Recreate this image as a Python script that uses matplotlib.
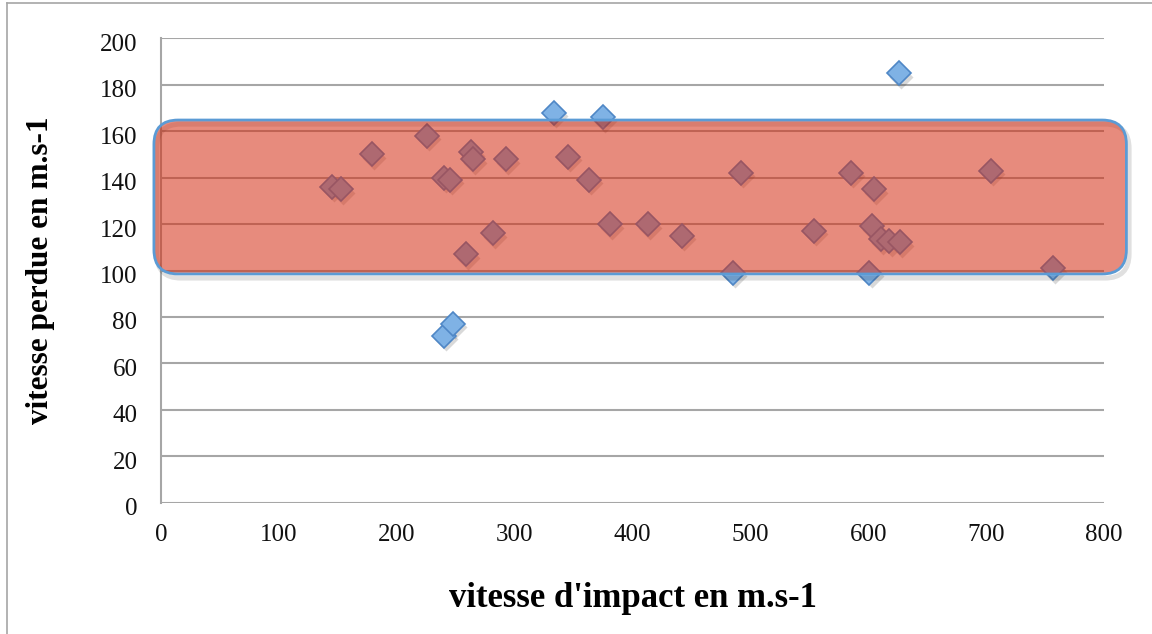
import matplotlib
matplotlib.use("Agg")
import matplotlib.pyplot as plt
from matplotlib.patches import FancyBboxPatch
from matplotlib.lines import Line2D
import matplotlib.transforms as mtransforms

# ---- data ----
impact_speed = [145, 153, 179, 226, 240, 245, 259, 263, 265, 282, 293, 333, 345, 363,
                375, 381, 413, 442, 485, 492, 554, 585, 601, 603, 605, 611, 618, 627,
                626, 704, 757, 240, 248]
lost_speed = [136, 135, 150, 158, 140, 139, 107, 151, 148, 116, 148, 168, 149, 139,
              166, 120, 120, 115, 99, 142, 117, 142, 99, 119, 135, 113.5, 112.6, 112.2,
              185, 143, 101, 72, 77]
x_ticks = [0, 100, 200, 300, 400, 500, 600, 700, 800]
y_ticks = [0, 20, 40, 60, 80, 100, 120, 140, 160, 180, 200]
highlight_x = (-6, 819)
highlight_y = (98.5, 164.8)
x_label = "vitesse d'impact en m.s-1"
y_label = "vitesse perdue en m.s-1"

W, H = 1152, 634
fig = plt.figure(figsize=(W / 100, H / 100), dpi=100)
ax = fig.add_axes([161 / W, 1 - 502.7 / H, (1104 - 161) / W, (502.7 - 38.3) / H])

ax.set_xlim(0, 800)
ax.set_ylim(0, 200)
ax.set_xticks(x_ticks)
ax.set_yticks(y_ticks)
ax.set_xticklabels([str(v) for v in x_ticks])
ax.set_yticklabels([str(v) for v in y_ticks])

for s in ["top", "right", "bottom"]:
    ax.spines[s].set_visible(False)
ax.spines["left"].set_color("#A6A6A6")
ax.spines["left"].set_linewidth(1.5)
ax.yaxis.grid(True, color="#A6A6A6", linewidth=1.5, zorder=0)
ax.set_axisbelow(True)
ax.tick_params(axis="both", length=0, labelsize=18, labelcolor="#111111")
ax.tick_params(axis="x", pad=15)
ax.tick_params(axis="y", pad=17)
down = mtransforms.ScaledTranslation(0, -4 / 100, fig.dpi_scale_trans)
for lbl in ax.get_xticklabels() + ax.get_yticklabels():
    lbl.set_fontfamily("Liberation Serif")
for lbl in ax.get_yticklabels():
    lbl.set_transform(lbl.get_transform() + down)

# marker shadows
shadow_tr = mtransforms.offset_copy(ax.transData, fig=fig, x=1.5, y=-2.5, units="points")
ax.plot(impact_speed, lost_speed, linestyle="none", marker="D", markersize=12.5,
        markerfacecolor="#000000", markeredgecolor="none", alpha=0.15,
        transform=shadow_tr, zorder=2, clip_on=False)
# markers
ax.plot(impact_speed, lost_speed, linestyle="none", marker="D", markersize=12.5,
        markerfacecolor="#7FB2E5", markeredgecolor="#4F87C6", markeredgewidth=1.2,
        zorder=3, clip_on=False)

# highlight rounded rectangle (soft edge shadow + box)
aspect = (ax.bbox.width / 800) / (ax.bbox.height / 200)
rx = 20.5
sh_tr = mtransforms.offset_copy(ax.transData, fig=fig, x=2.0, y=-3.0, units="points")
shadow = FancyBboxPatch((highlight_x[0], highlight_y[0]),
                        highlight_x[1] - highlight_x[0], highlight_y[1] - highlight_y[0],
                        boxstyle=f"round,pad=0,rounding_size={rx}", mutation_aspect=aspect,
                        facecolor="none", edgecolor="#000000", linewidth=3.5, alpha=0.12,
                        transform=sh_tr, zorder=3.5, clip_on=False)
ax.add_patch(shadow)
box = FancyBboxPatch((highlight_x[0], highlight_y[0]),
                     highlight_x[1] - highlight_x[0], highlight_y[1] - highlight_y[0],
                     boxstyle=f"round,pad=0,rounding_size={rx}", mutation_aspect=aspect,
                     facecolor=(213 / 255, 45 / 255, 18 / 255, 0.55),
                     edgecolor="#5B9BD5", linewidth=2.0,
                     zorder=4, clip_on=False)
ax.add_patch(box)

ax.set_xlabel(x_label, fontfamily="Liberation Serif", fontweight="bold",
              fontsize=25, labelpad=26)
ax.set_ylabel(y_label, fontfamily="Liberation Serif", fontweight="bold",
              fontsize=22.5, labelpad=32)

# chart frame (left and top edges)
fig.add_artist(Line2D([7 / W, 7 / W], [0, 1 - 3 / H], transform=fig.transFigure,
                      color="#A6A6A6", linewidth=1.2))
fig.add_artist(Line2D([7 / W, 1], [1 - 3 / H, 1 - 3 / H], transform=fig.transFigure,
                      color="#A6A6A6", linewidth=1.2))

fig.savefig("out.png", dpi=100, facecolor="white")
